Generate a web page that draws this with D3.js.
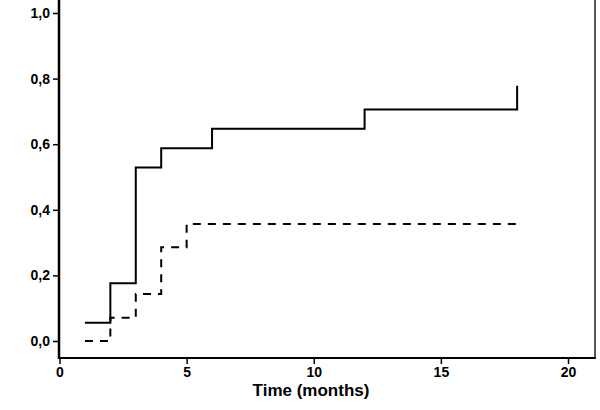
<!DOCTYPE html>
<html><head><meta charset="utf-8">
<script src="https://cdn.jsdelivr.net/npm/d3@7"></script>
<style>body{margin:0;background:#fff}svg{display:block}</style>
</head><body><svg id="c" width="600" height="410"></svg>
<script>
const solidTimes = [1, 2, 3, 4, 6, 12, 18];
const solidValues = [0.056, 0.176, 0.529, 0.588, 0.647, 0.706, 0.778];
const dashedTimes = [1, 2, 3, 4, 5, 18];
const dashedValues = [0.0, 0.071, 0.143, 0.286, 0.357, 0.357];
const xTicks = [0, 5, 10, 15, 20];
const yTicks = [0, 0.2, 0.4, 0.6, 0.8, 1.0];
const xLabel = "Time (months)";

const svg = d3.select("#c");
const x = d3.scaleLinear().domain([0, 20]).range([59.5, 568]);
const y = d3.scaleLinear().domain([0, 1]).range([341, 13]);
const plotLeft = 59, plotRight = 595, plotBottom = 358, plotTop = 0;
const font = "'Liberation Sans', Arial, sans-serif";

// frame
svg.append("line").attr("x1", plotRight).attr("x2", plotRight).attr("y1", plotTop).attr("y2", plotBottom)
  .attr("stroke", "#222").attr("stroke-width", 1.5);

const gy = svg.append("g").attr("transform", `translate(${plotLeft},0)`)
  .call(d3.axisLeft(y).tickValues(yTicks).tickSize(6).tickSizeOuter(0).tickPadding(3)
    .tickFormat(d => d3.format(".1f")(d).replace(".", ",")));
gy.select(".domain").remove();
gy.selectAll(".tick line").attr("stroke", "#000").attr("stroke-width", 1.5);
gy.selectAll("text").attr("font-family", font).attr("font-weight", "bold").attr("font-size", 14).attr("fill", "#000");

const gx = svg.append("g").attr("transform", `translate(0,${plotBottom})`)
  .call(d3.axisBottom(x).tickValues(xTicks).tickSize(6).tickSizeOuter(0).tickPadding(3).tickFormat(d3.format("d")));
gx.select(".domain").remove();
gx.selectAll(".tick line").attr("stroke", "#000").attr("stroke-width", 1.5);
gx.selectAll("text").attr("font-family", font).attr("font-weight", "bold").attr("font-size", 14).attr("fill", "#000");

svg.append("line").attr("x1", plotLeft).attr("x2", plotLeft).attr("y1", plotTop).attr("y2", plotBottom + 1)
  .attr("stroke", "#000").attr("stroke-width", 2.5);
svg.append("line").attr("x1", plotLeft - 1).attr("x2", plotRight + 0.75).attr("y1", plotBottom).attr("y2", plotBottom)
  .attr("stroke", "#000").attr("stroke-width", 2);

svg.append("text").attr("x", 311).attr("y", 396).attr("text-anchor", "middle")
  .attr("font-family", font).attr("font-weight", "bold").attr("font-size", 17).text(xLabel);

const line = d3.line().x(d => x(d[0])).y(d => y(d[1])).curve(d3.curveStepAfter);
svg.append("path").attr("d", line(d3.zip(solidTimes, solidValues)))
  .attr("fill", "none").attr("stroke", "#000").attr("stroke-width", 2);
svg.append("path").attr("d", line(d3.zip(dashedTimes, dashedValues)))
  .attr("fill", "none").attr("stroke", "#000").attr("stroke-width", 2).attr("stroke-dasharray", "8,7");
</script></body></html>
